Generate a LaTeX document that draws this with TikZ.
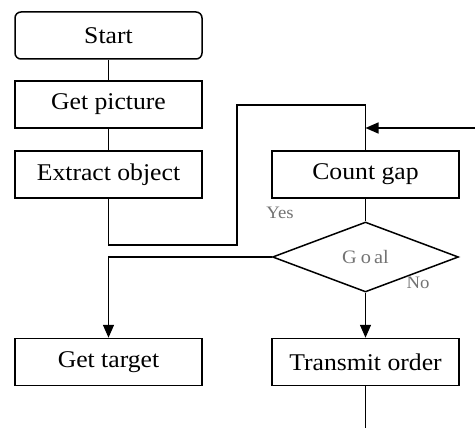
\documentclass[tikz,border=0pt]{standalone}
\usepackage{fontspec}
\setmainfont{Liberation Serif}[FakeStretch=1.07]
\usetikzlibrary{shapes.geometric,arrows.meta}
\begin{document}
\begin{tikzpicture}[x=1pt,y=-1pt,
  line width=1.5pt,
  box/.style={draw, minimum width=187pt, minimum height=47pt, inner sep=0pt,
    font=\fontsize{24}{28}\selectfont},
  decision/.style={draw, diamond, minimum width=186pt, minimum height=70pt, inner sep=0pt,
    text=black!55, font=\fontsize{19}{22}\selectfont},
  lbl/.style={text=black!55, font=\fontsize{17.5}{20}\selectfont, inner sep=0pt},
  arr/.style={-{Triangle[length=13pt,width=11pt]}}]
\useasboundingbox (0,0) rectangle (475,428);
\node[box, rounded corners=6pt] (start) at (108.5,35.5) {Start};
\node[box] (get) at (108.5,104.5) {Get picture};
\node[box] (ext) at (108.5,174.5) {Extract object};
\node[box] (cnt) at (365.5,174.5) {Count gap};
\node[decision] (goal) at (365.5,257) {G\hspace{4pt}o\hspace{3pt}al};
\node[box] (tgt) at (108.5,362) {Get target};
\node[box] (tx) at (365.5,362) {Transmit order};
\node[lbl] (yes) at (280,213) {Yes};
\node[lbl] (no) at (418,283) {No};
\coordinate (j1) at (237,245);
\coordinate (j2) at (237,105);
\coordinate (rin) at (475,128);
\coordinate (rend) at (365.5,128);
\coordinate (bot) at (365.5,428);
\draw (start) -- (get);
\draw (get) -- (ext);
\draw (ext.south) |- (j1) -- (j2) -| (cnt.north);
\draw[arr] (rin) -- (rend);
\draw (cnt) -- (goal);
\draw[arr] (goal.west) -| (tgt.north);
\draw[arr] (goal.south) -- (tx.north);
\draw (tx.south) -- (bot);
\end{tikzpicture}
\end{document}
